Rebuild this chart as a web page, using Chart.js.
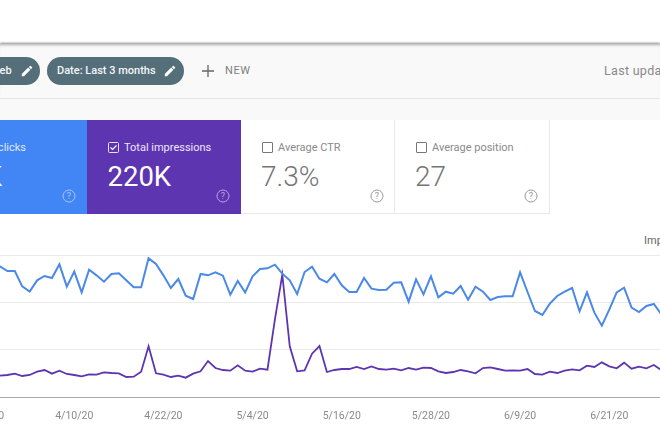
<!DOCTYPE html>
<html><head><meta charset="utf-8">
<script src="https://cdn.jsdelivr.net/npm/chart.js@4/dist/chart.umd.min.js"></script>
<style>
html,body{margin:0;padding:0;background:#fff;overflow:hidden}
body{width:660px;height:440px;position:relative;font-family:Roboto,sans-serif}
.a{position:absolute;white-space:nowrap}
#bar{left:0;top:44px;width:660px;height:54px;background:#f9f9f9;box-shadow:0 -1px 2px rgba(0,0,0,.45),inset 0 3px 3px -2px rgba(0,0,0,.3);border-bottom:1px solid #e4e4e4}
#band{left:0;top:99px;width:660px;height:21px;background:#f9f9f9}
.chip{height:28px;top:57px;background:#546e7a;border-radius:14px;color:#f4f6f7;font-size:11px;font-weight:500;line-height:28px;box-sizing:border-box}
.card{top:120px;height:94px;box-sizing:border-box}
.lab{font-size:11px;top:141px;line-height:14px}
.num{font-size:28px;top:161px;line-height:32px}
.box{width:9px;height:9px;top:142px;border:1px solid #777;border-radius:1px}
svg{position:absolute}
canvas{position:absolute;left:-30px;top:235px}
</style></head><body>
<div class="a" id="bar"></div><div class="a" id="band"></div>
<div class="a chip" style="left:-40px;width:80px;padding-left:30px">Web</div>
<svg style="left:20px;top:64px" width="14" height="14" viewBox="0 0 24 24"><path fill="#fff" d="M3 17.2V21h3.8L17.8 10 14 6.2zM20.7 7a1 1 0 0 0 0-1.4l-2.3-2.3a1 1 0 0 0-1.4 0l-1.8 1.8 3.7 3.7z"/></svg>
<div class="a chip" style="left:47px;width:137px;padding-left:10px">Date: Last 3 months</div>
<svg style="left:163px;top:64px" width="14" height="14" viewBox="0 0 24 24"><path fill="#fff" d="M3 17.2V21h3.8L17.8 10 14 6.2zM20.7 7a1 1 0 0 0 0-1.4l-2.3-2.3a1 1 0 0 0-1.4 0l-1.8 1.8 3.7 3.7z"/></svg>
<svg style="left:201px;top:64px" width="14" height="14" viewBox="0 0 14 14"><path stroke="#666" stroke-width="1.3" d="M7 1v12M1 7h12"/></svg>
<div class="a" style="left:225px;top:64px;font-size:11px;line-height:14px;color:#808080;font-weight:400;letter-spacing:.6px">NEW</div>
<div class="a" style="left:604px;top:63px;font-size:12.5px;line-height:16px;color:#888;letter-spacing:.3px">Last updated</div>

<div class="a card" style="left:0;width:87px;background:#4285f4"></div>
<div class="a card" style="left:87px;width:154px;background:#5e35b1"></div>
<div class="a card" style="left:241px;width:154px;background:#fff;border-bottom:1px solid #e8e8e8;border-right:1px solid #e8e8e8"></div>
<div class="a card" style="left:395px;width:155px;background:#fff;border-bottom:1px solid #e8e8e8;border-right:1px solid #e8e8e8"></div>

<div class="a lab" style="left:-62px;color:#dfe9fb;width:88px;text-align:right">Total clicks</div>
<div class="a num" style="left:-47px;color:#fff">15K</div>
<svg style="left:62px;top:189px" width="14" height="14" viewBox="0 0 14 14"><circle cx="7" cy="7" r="6" fill="none" stroke="#a9c6f9" stroke-width="1"/><text x="7" y="10" text-anchor="middle" font-size="9" fill="#a9c6f9" font-family="Roboto">?</text></svg>

<svg style="left:108px;top:142px" width="11" height="11" viewBox="0 0 11 11"><rect x=".5" y=".5" width="10" height="10" rx="1" fill="none" stroke="#e6e0f3"/><path d="M2.5 5.5l2 2 4-4" fill="none" stroke="#fff" stroke-width="1.1"/></svg>
<div class="a lab" style="left:124px;color:#ece7f6">Total impressions</div>
<div class="a num" style="left:107.5px;color:#fff;font-size:27.5px">220K</div>
<svg style="left:216px;top:189px" width="14" height="14" viewBox="0 0 14 14"><circle cx="7" cy="7" r="6" fill="none" stroke="#b7a5de" stroke-width="1"/><text x="7" y="10" text-anchor="middle" font-size="9" fill="#b7a5de" font-family="Roboto">?</text></svg>

<div class="a box" style="left:262px"></div>
<div class="a lab" style="left:278px;color:#8a8a8a">Average CTR</div>
<div class="a num" style="left:261px;color:#757575;font-weight:300">7.3%</div>
<svg style="left:370px;top:189px" width="14" height="14" viewBox="0 0 14 14"><circle cx="7" cy="7" r="6" fill="none" stroke="#9a9a9a" stroke-width="1"/><text x="7" y="10" text-anchor="middle" font-size="9" fill="#9a9a9a" font-family="Roboto">?</text></svg>

<div class="a box" style="left:416px"></div>
<div class="a lab" style="left:432px;color:#8a8a8a">Average position</div>
<div class="a num" style="left:415px;color:#757575;font-weight:300">27</div>
<svg style="left:524px;top:189px" width="14" height="14" viewBox="0 0 14 14"><circle cx="7" cy="7" r="6" fill="none" stroke="#9a9a9a" stroke-width="1"/><text x="7" y="10" text-anchor="middle" font-size="9" fill="#9a9a9a" font-family="Roboto">?</text></svg>

<div class="a" style="left:644px;top:234px;font-size:11px;line-height:14px;color:#666">Impressions</div>
<canvas id="c" width="710" height="200" style="width:710px;height:200px"></canvas>
<script>
// Values are in relative units: the reference crops the y-axis labels away.
const startDate = [3, 29];
const labelEvery = 12;
const clicksSeries = [370,400,
392,378,378,332,316,350,363,357,398,331,376,314,382,365,346,369,371,350,329,329,416,399,365,327,354,304,294,369,365,374,
364,307,348,314,362,384,386,397,370,350,309,375,391,355,344,369,335,315,315,357,325,321,322,343,344,286,353,308,362,299,
316,310,333,292,331,316,291,300,302,302,374,315,258,246,280,303,316,327,257,314,253,214,262,314,328,268,255,273,279,248,
230];
const impressionsSeries = [62,64,
64,66,70,63,66,76,81,70,79,69,66,62,68,67,74,72,71,60,61,76,152,71,67,60,64,58,70,77,108,87,
81,79,95,79,76,85,82,232,367,152,77,80,130,153,75,81,84,84,90,84,92,84,82,85,80,87,82,88,87,77,
72,75,81,77,71,87,89,84,79,80,79,84,69,67,76,72,79,83,80,94,90,104,92,86,103,85,91,86,96,81,
85];
const categories = clicksSeries.map((_, i) => {
  const d = new Date(2020, startDate[0] - 1, startDate[1] + i);
  return (d.getMonth() + 1) + '/' + d.getDate() + '/20';
});
new Chart(document.getElementById('c'), {
  type: 'line',
  data: { labels: categories, datasets: [
    { label: 'Clicks', data: clicksSeries, borderColor: '#4a89e8', borderWidth: 2, pointRadius: 0, tension: 0 },
    { label: 'Impressions', data: impressionsSeries, borderColor: '#5e35b1', borderWidth: 1.8, pointRadius: 0, tension: 0 }
  ]},
  options: {
    responsive: false, animation: false,
    layout: { padding: { left: 15.1, right: 11.3, top: 20, bottom: 0 } },
    plugins: { legend: { display: false }, tooltip: { enabled: false } },
    scales: {
      x: { offset: false, grid: { display: false, drawTicks: false },
           border: { color: '#a8a8a8', width: 1 },
           afterFit(s) { s.height = 38; s.paddingLeft = 0; s.paddingRight = 0; },
           ticks: { autoSkip: false, maxRotation: 0, minRotation: 0, padding: 13, color: '#8a8a8a',
                    font: { family: 'Roboto', size: 10.5 },
                    callback(v, i) { return i % labelEvery === 0 ? this.getLabelForValue(v) : ''; } } },
      y: { min: 0, max: 426, afterFit(s) { s.width = 0; },
           grid: { color: '#e9e9e9', drawTicks: false }, border: { display: false },
           ticks: { display: false, stepSize: 142 } }
    }
  }
});
</script>
</body></html>
